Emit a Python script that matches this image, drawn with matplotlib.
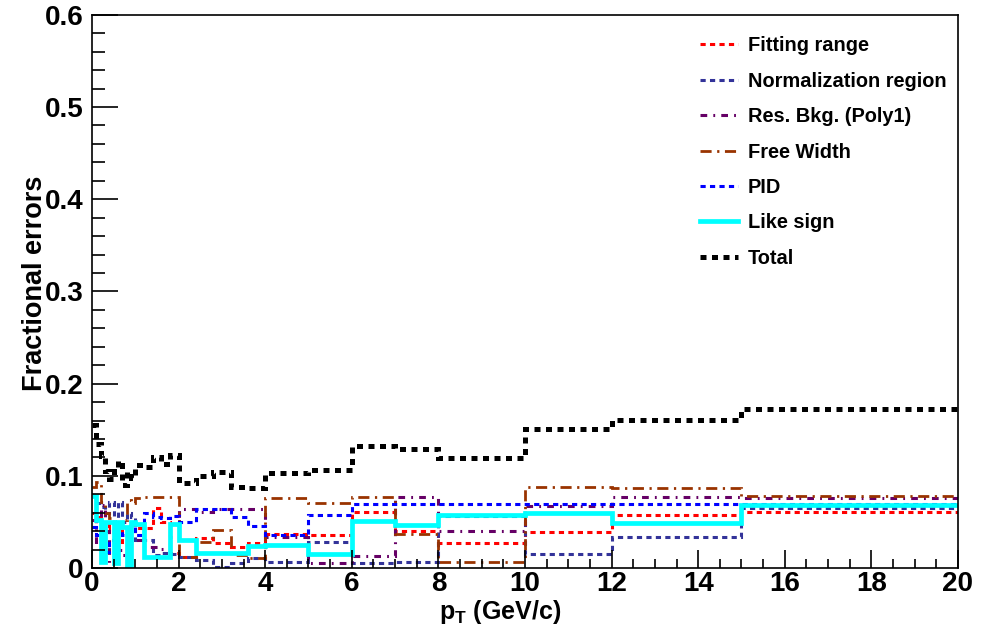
"""Systematic uncertainty breakdown versus pT (fractional errors per source)."""

import matplotlib

matplotlib.use("Agg")
import matplotlib.pyplot as plt
from matplotlib.lines import Line2D
from matplotlib.ticker import MultipleLocator

plt.rcParams["font.family"] = ["Liberation Sans", "DejaVu Sans"]
plt.rcParams["font.weight"] = "bold"
plt.rcParams["mathtext.fontset"] = "custom"
plt.rcParams["mathtext.bf"] = "Liberation Sans:bold"
plt.rcParams["mathtext.rm"] = "Liberation Sans:bold"

# pT bin edges (GeV/c)
pt_edges = [0.0, 0.1, 0.2, 0.3, 0.4, 0.5, 0.6, 0.7, 0.8, 0.9, 1.0,
            1.2, 1.4, 1.6, 1.8, 2.0, 2.4, 2.8, 3.2, 3.6, 4.0,
            5.0, 6.0, 7.0, 8.0, 10.0, 12.0, 15.0, 20.0]

# fractional error per bin for each source
fitting_range = [0.060, 0.055, 0.035, 0.043, 0.050, 0.038, 0.028, 0.045, 0.040, 0.048,
                 0.043, 0.043, 0.065, 0.050, 0.016,
                 0.012, 0.033, 0.027, 0.023, 0.027,
                 0.037, 0.036, 0.061, 0.040, 0.027, 0.039, 0.057, 0.061]
norm_region = [0.045, 0.070, 0.066, 0.060, 0.072, 0.040, 0.072, 0.050, 0.060, 0.055,
               0.030, 0.030, 0.014, 0.016, 0.015,
               0.012, 0.009, 0.001, 0.005, 0.011,
               0.007, 0.028, 0.005, 0.007, 0.056, 0.015, 0.034, 0.065]
res_bkg = [0.052, 0.025, 0.068, 0.040, 0.005, 0.035, 0.020, 0.014, 0.030, 0.030,
           0.030, 0.023, 0.023, 0.021, 0.034,
           0.064, 0.061, 0.064, 0.064, 0.064,
           0.034, 0.005, 0.013, 0.077, 0.040, 0.067, 0.077, 0.076]
free_width = [0.088, 0.093, 0.072, 0.060, 0.054, 0.045, 0.050, 0.052, 0.074, 0.070,
              0.076, 0.077, 0.077, 0.077, 0.077,
              0.012, 0.028, 0.041, 0.014, 0.011,
              0.076, 0.070, 0.077, 0.037, 0.007, 0.088, 0.087, 0.078]
pid = [0.045, 0.036, 0.025, 0.017, 0.030, 0.050, 0.050, 0.036, 0.036, 0.047,
       0.036, 0.060, 0.055, 0.054, 0.056,
       0.050, 0.064, 0.064, 0.055, 0.046,
       0.036, 0.058, 0.069, 0.069, 0.069, 0.069, 0.069, 0.069]
like_sign = [0.078, 0.052, 0.006, 0.050, 0.050, 0.005, 0.050, 0.045, 0.000, 0.050,
             0.048, 0.012, 0.012, 0.012, 0.048,
             0.030, 0.016, 0.016, 0.016, 0.024,
             0.025, 0.015, 0.051, 0.047, 0.058, 0.060, 0.049, 0.068]
total = [0.155, 0.135, 0.122, 0.105, 0.097, 0.110, 0.116, 0.090, 0.104, 0.098,
         0.112, 0.110, 0.120, 0.113, 0.123,
         0.092, 0.100, 0.104, 0.088, 0.087,
         0.103, 0.106, 0.132, 0.129, 0.119, 0.151, 0.161, 0.173]

SOURCES = [
    ("Fitting range", fitting_range, "#ff0000", 2.2, (0, (1.7, 1.4))),
    ("Normalization region", norm_region, "#333399", 2.2, (0, (1.7, 1.4))),
    ("Res. Bkg. (Poly1)", res_bkg, "#660066", 2.2, (0, (2.2, 2.0, 0.6, 2.0))),
    ("Free Width", free_width, "#993300", 2.0, (0, (4.0, 2.0, 0.8, 2.0))),
    ("PID", pid, "#0000ff", 2.2, (0, (1.7, 1.4))),
    ("Like sign", like_sign, "#00ffff", 3.4, "-"),
    ("Total", total, "#000000", 3.6, (0, (1.2, 1.1))),
]

fig = plt.figure(figsize=(9.91, 6.24), dpi=100)
ax = fig.add_axes([0.0928, 0.0897, 0.8739, 0.8865])

handles = []
for label, vals, color, lw, ls in SOURCES:
    ax.stairs(vals, pt_edges, baseline=None, color=color, lw=lw, linestyle=ls)
    handles.append(Line2D([], [], color=color, lw=lw, linestyle=ls))

ax.set_xlim(0, 20)
ax.set_ylim(0, 0.6)
ax.xaxis.set_major_locator(MultipleLocator(2))
ax.xaxis.set_minor_locator(MultipleLocator(0.5))
ax.yaxis.set_major_locator(MultipleLocator(0.1))
ax.yaxis.set_minor_locator(MultipleLocator(0.02))
ax.tick_params(axis="both", which="both", direction="in", top=False, right=False,
               labelsize=20, width=1.2, color="black")
ax.tick_params(axis="y", which="major", length=19, pad=6)
ax.tick_params(axis="y", which="minor", length=9.5)
ax.tick_params(axis="x", which="major", length=13, pad=2)
ax.tick_params(axis="x", which="minor", length=6.5)
ax.set_xticks([0, 2, 4, 6, 8, 10, 12, 14, 16, 18, 20],
              ["0", "2", "4", "6", "8", "10", "12", "14", "16", "18", "20"])
ax.set_yticks([0, 0.1, 0.2, 0.3, 0.4, 0.5, 0.6],
              ["0", "0.1", "0.2", "0.3", "0.4", "0.5", "0.6"])
for s in ax.spines.values():
    s.set_linewidth(1.2)

ax.set_xlabel(r"$\mathbf{p_{T}}$ (GeV/c)", fontsize=18, fontweight="bold")
ax.xaxis.set_label_coords(0.471, -0.054)
ax.set_ylabel("Fractional errors", fontsize=19.5, fontweight="bold")
ax.yaxis.set_label_coords(-0.051, 0.515)

ax.legend(handles, [s[0] for s in SOURCES], loc="upper left",
          bbox_to_anchor=(0.702, 0.961), frameon=False, fontsize=14.4,
          handlelength=1.9, handletextpad=0.5, labelspacing=0.82,
          borderpad=0, borderaxespad=0)

fig.savefig("out.png", dpi=100)
plt.close(fig)
